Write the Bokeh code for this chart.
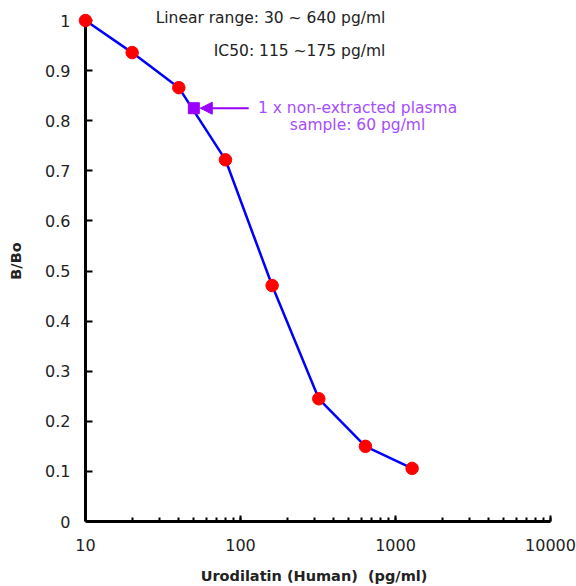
from bokeh.plotting import figure
from bokeh.models import (Range1d, LinearAxis, FixedTicker, LogTicker,
                          CustomJSTickFormatter, Label, Arrow, NormalHead, ColumnDataSource)
from bokeh.embed import file_html
from bokeh.resources import INLINE

# data
conc = [10, 20, 40, 80, 160, 320, 640, 1280]
bbo = [1.0, 0.936, 0.866, 0.722, 0.471, 0.245, 0.150, 0.106]
sample_conc = [50]
sample_bbo = [0.825]
y_ticks = [0, 0.1, 0.2, 0.3, 0.4, 0.5, 0.6, 0.7, 0.8, 0.9, 1.0]

FONT = "DejaVu Sans"
PURPLE_TXT = "#A64DFF"
PURPLE = "#9900FF"
TXT = "#222222"

p = figure(width=576, height=586, x_axis_type="log",
           x_range=Range1d(8.88, 10000), y_range=Range1d(0, 1.04),
           output_backend="svg", toolbar_location=None,
           min_border_left=77, min_border_right=26, min_border_top=0, min_border_bottom=65)
p.outline_line_color = None
p.xgrid.grid_line_color = None
p.ygrid.grid_line_color = None

xa = p.xaxis[0]
xa.ticker = LogTicker(desired_num_ticks=4, num_minor_ticks=10)
xa.formatter = CustomJSTickFormatter(code="return Math.round(tick).toString();")
xa.bounds = (10, 10000)
xa.axis_line_width = 3
xa.major_tick_in = 6
xa.major_tick_out = 0
xa.minor_tick_in = 4
xa.minor_tick_out = 0
xa.major_tick_line_width = 2
xa.minor_tick_line_width = 2
xa.major_label_standoff = 17
xa.major_label_text_font = FONT
xa.major_label_text_font_size = "16px"
xa.major_label_text_color = TXT
xa.axis_label = "Urodilatin (Human)\u00a0 (pg/ml)"
xa.axis_label_text_font = FONT
xa.axis_label_text_font_style = "bold"
xa.axis_label_text_font_size = "14.5px"
xa.axis_label_text_color = TXT
xa.axis_label_standoff = 14

# labels-only y axis at the frame edge
ya = p.yaxis[0]
ya.ticker = FixedTicker(ticks=y_ticks)
ya.formatter = CustomJSTickFormatter(code="return String(Math.round(tick*10)/10);")
ya.axis_line_color = None
ya.major_tick_line_color = None
ya.minor_tick_line_color = None
ya.major_tick_in = 0
ya.major_tick_out = 0
ya.major_label_standoff = 7
ya.major_label_text_font = FONT
ya.major_label_text_font_size = "16px"
ya.major_label_text_color = TXT
ya.axis_label = "B/Bo"
ya.axis_label_text_font = FONT
ya.axis_label_text_font_style = "bold"
ya.axis_label_text_font_size = "14.5px"
ya.axis_label_text_color = TXT
ya.axis_label_standoff = 18

# line + ticks y axis placed at x = 10
yl = LinearAxis(ticker=FixedTicker(ticks=y_ticks), fixed_location=10, bounds=(0, 1),
                axis_line_width=3, major_tick_in=7, major_tick_out=0, major_tick_line_width=2,
                minor_tick_line_color=None,
                formatter=CustomJSTickFormatter(code="return '';"),
                major_label_text_font_size="0px", major_label_standoff=0)
p.add_layout(yl, "left")

src = ColumnDataSource(dict(x=conc, y=bbo))
p.line("x", "y", source=src, line_color="#0000FF", line_width=2.5)
r = p.scatter("x", "y", source=src, size=12.5, fill_color="#FF0000", line_color="#FF0000")
r.level = "overlay"
p.scatter(sample_conc, sample_bbo, marker="square", size=11, fill_color=PURPLE, line_color=PURPLE)

p.add_layout(Arrow(end=NormalHead(size=12, fill_color=PURPLE, line_color=PURPLE),
                   x_start=113, y_start=sample_bbo[0], x_end=55, y_end=sample_bbo[0],
                   line_color=PURPLE, line_width=2))

p.add_layout(Label(x=860, y=1.006, text="Linear range: 30 ~ 640 pg/ml", text_align="right",
                   text_baseline="middle", text_font=FONT, text_font_size="15.5px", text_color=TXT))
p.add_layout(Label(x=860, y=0.94, text="IC50: 115 ~175 pg/ml", text_align="right",
                   text_baseline="middle", text_font=FONT, text_font_size="15.5px", text_color=TXT))
p.add_layout(Label(x=569, y=0.826, text="1 x non-extracted plasma", text_align="center",
                   text_baseline="middle", text_font=FONT, text_font_size="15.5px", text_color=PURPLE_TXT))
p.add_layout(Label(x=569, y=0.792, text="sample: 60 pg/ml", text_align="center",
                   text_baseline="middle", text_font=FONT, text_font_size="15.5px", text_color=PURPLE_TXT))

open("out.html", "w").write(file_html(p, INLINE))
